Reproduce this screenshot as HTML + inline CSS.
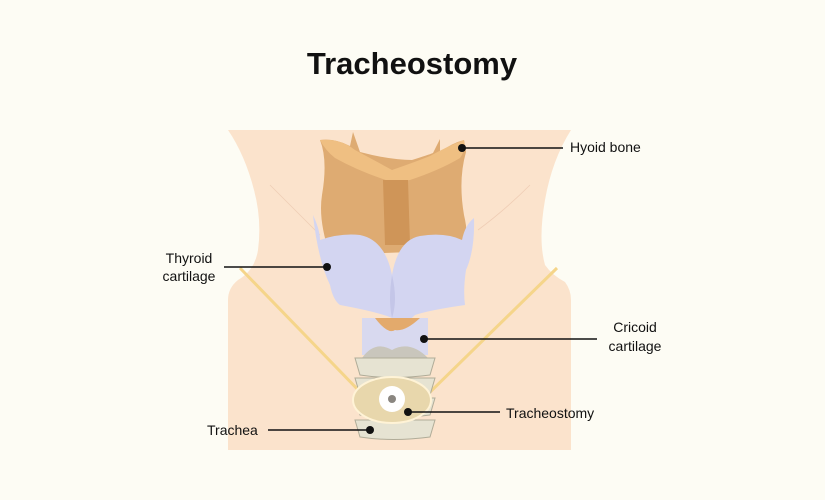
<!DOCTYPE html>
<html><head><meta charset="utf-8"><style>
html,body{margin:0;padding:0;background:#fdfcf4;}
svg{display:block}
text{font-family:"Liberation Sans",sans-serif;fill:#111;}
</style></head><body>
<svg width="825" height="500" viewBox="0 0 825 500" xmlns="http://www.w3.org/2000/svg">
<rect width="825" height="500" fill="#fdfcf4"/>
<text x="412" y="74" text-anchor="middle" font-size="31" font-weight="bold">Tracheostomy</text>
<path d="M228 130 L571 130 Q552 160 545 200 Q538 240 545 265 Q552 275 565 282 Q571 290 571 300 L571 450 L228 450 L228 300 Q228 288 238 280 Q255 270 258 250 Q262 220 254 190 Q245 155 228 130 Z" fill="#fbe3cc"/>
<path d="M270 185 Q300 215 320 235 M530 185 Q505 210 478 230" stroke="#efcdb5" stroke-width="0.8" fill="none"/>
<path d="M240 268 L365 397 M557 268 L425 397" stroke="#f5d58a" stroke-width="3" fill="none"/>
<path d="M320 140 Q335 138 350 146 L353 132 L360 152 Q390 160 412 160 Q428 155 433 153 L440 139 L440 152 Q452 143 464 140 L466 152 Q458 180 464 215 Q470 240 462 250 L330 255 Q318 220 322 195 Q328 160 320 140 Z" fill="#deab72"/>
<path d="M320 140 Q340 138 355 150 Q385 166 392 170 Q415 162 430 156 Q448 146 464 140 Q466 150 460 158 Q440 170 410 180 L392 182 Q360 172 335 158 Q325 150 320 140Z" fill="#efbf82"/>
<path d="M383 180 L408 180 L410 245 L385 245 Z" fill="#cf9558"/>
<path d="M313 215 Q320 230 320 240 Q340 233 360 235 Q385 240 392 275 Q398 240 420 236 Q445 232 462 240 Q465 225 474 218 Q475 250 466 270 Q463 290 465 305 Q430 310 415 315 Q400 330 392 318 Q378 312 340 305 Q333 300 330 285 Q318 260 313 215 Z" fill="#d3d5f1"/>
<path d="M392 275 Q388 300 392 318 Q398 300 392 275Z" fill="#c4c6e8"/>
<path d="M362 318 L428 318 L428 355 L362 355 Z" fill="#d8d9ef"/>
<path d="M375 318 Q388 335 395 330 Q405 332 420 318 Z" fill="#e3aa6c"/>
<path d="M362 358 Q375 340 392 350 Q410 340 428 358 L428 365 L362 365 Z" fill="#c9c6bc"/>
<path d="M355 358 L435 358 L430 375 Q392 380 360 375 Z" fill="#e6e3d2" stroke="#b0ac98" stroke-width="1"/>
<path d="M355 378 L435 378 L430 395 Q392 400 360 395 Z" fill="#e6e3d2" stroke="#b0ac98" stroke-width="1"/>
<path d="M355 398 L435 398 L430 415 Q392 420 360 415 Z" fill="#e6e3d2" stroke="#b0ac98" stroke-width="1"/>
<path d="M355 420 L435 420 L430 437 Q392 442 360 437 Z" fill="#e6e3d2" stroke="#b0ac98" stroke-width="1"/>
<ellipse cx="392" cy="400" rx="39" ry="23" fill="#e8d7ac" stroke="#fff3d6" stroke-width="2"/>
<circle cx="392" cy="399" r="13" fill="#ffffff"/>
<circle cx="392" cy="399" r="4" fill="#8a8680"/>
<g stroke="#111" stroke-width="1.4" fill="none">
<path d="M462 148 L563 148"/><path d="M224 267 L327 267"/><path d="M424 339 L597 339"/><path d="M408 412 L500 412"/><path d="M268 430 L370 430"/>
</g>
<g fill="#111">
<circle cx="462" cy="148" r="4"/><circle cx="327" cy="267" r="4"/><circle cx="424" cy="339" r="4"/><circle cx="408" cy="412" r="4"/><circle cx="370" cy="430" r="4"/>
</g>
<g font-size="14">
<text x="570" y="152">Hyoid bone</text>
<text x="189" y="263" text-anchor="middle">Thyroid</text>
<text x="189" y="281" text-anchor="middle">cartilage</text>
<text x="635" y="332" text-anchor="middle">Cricoid</text>
<text x="635" y="351" text-anchor="middle">cartilage</text>
<text x="506" y="418">Tracheostomy</text>
<text x="207" y="435">Trachea</text>
</g>
</svg>
</body></html>
